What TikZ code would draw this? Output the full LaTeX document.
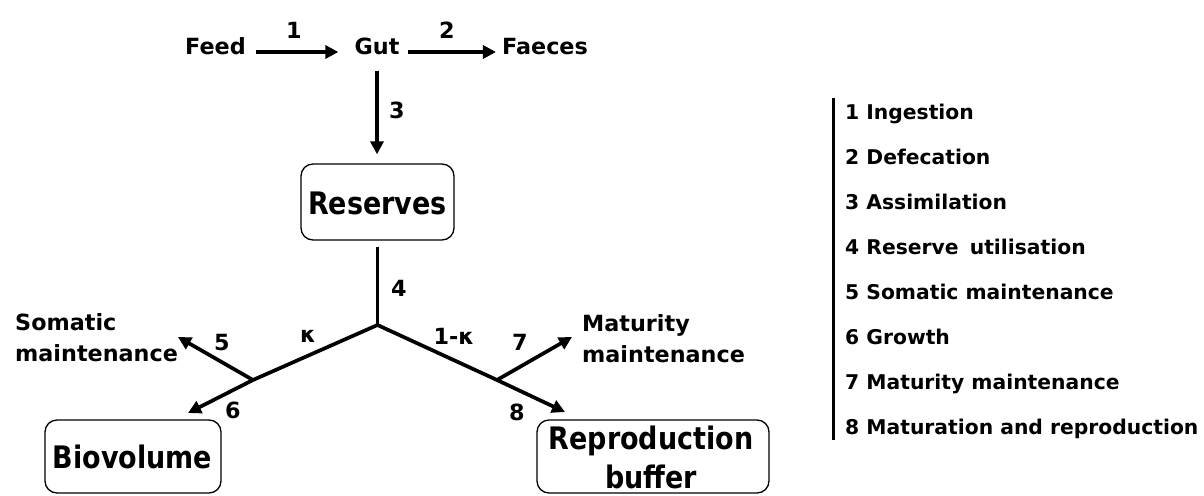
\documentclass[tikz,border=0pt]{standalone}
\usepackage{fontspec}
\setmainfont{DejaVu Sans}
\newfontfamily\boxfont{DejaVu Sans}[FakeStretch=0.87]
\usetikzlibrary{arrows.meta}
\tikzset{
  lbl/.style={font=\bfseries\fontsize{22.3}{31}\selectfont, inner sep=0pt},
  legtxt/.style={font=\bfseries\fontsize{20.3}{24}\selectfont, inner sep=0pt, anchor=base west},
  pool/.style={draw, line width=1.3pt, rounded corners=12pt, inner sep=0pt},
  pooltxt/.style={font=\boxfont\bfseries\fontsize{31}{39}\selectfont, inner sep=0pt, align=center},
  flow/.style={line width=3.7pt, line join=round, -{Triangle[length=13pt,width=13pt]}},
  trunk/.style={line width=3.7pt},
}
\begin{document}
\begin{tikzpicture}[x=1pt,y=-1pt]
\useasboundingbox (0,0) rectangle (1204,495);

% feeding chain
\node[lbl, anchor=base] (feed)   at (215.5,55) {Feed};
\node[lbl, anchor=base] (gut)    at (377,55)   {Gut};
\node[lbl, anchor=base] (faeces) at (545,55)   {Faeces};

% state variables
\node[pool, minimum width=153pt, minimum height=76pt] (res) at (377.5,202) {};
\node[pooltxt, anchor=base] (restxt) at (377.5,214.3) {Reserves};
\node[pool, minimum width=176pt, minimum height=73pt] (bio) at (133,456.5) {};
\node[pooltxt, anchor=base] (biotxt) at (132.5,468) {Biovolume};
\node[pool, minimum width=232pt, minimum height=73pt] (rep) at (653,456.5) {};
\node[pooltxt] (reptxt) at (651,457.5) {Reproduction\\buffer};

% sinks
\node[lbl, align=left, anchor=west] (som) at (15,338) {Somatic\\maintenance};
\node[lbl, align=left, anchor=west] (mat) at (582,339) {Maturity\\maintenance};

% branching points
\coordinate (j)  at (377.5,325);
\coordinate (jl) at (253,380);
\coordinate (jr) at (497,380);
\coordinate (tsom) at (178,337);
\coordinate (tbio) at (188,413);
\coordinate (tmat) at (572,337);
\coordinate (trep) at (565,412);

% fluxes
\draw[flow, shorten <=10pt, shorten >=16pt] ([yshift=3pt]feed.base east) -- ([yshift=3pt]gut.base west);
\draw[flow, shorten <=8pt, shorten >=6pt] ([yshift=3pt]gut.base east) -- ([yshift=3pt]faeces.base west);
\draw[flow, shorten <=15pt, shorten >=9pt] (gut.south) -- (gut.south |- res.north);
\draw[trunk, shorten <=6pt] (res.south) -- (j);
\draw[flow] (j) -- (jl) -- (tbio);
\draw[flow] (jl) -- (tsom);
\draw[flow] (j) -- (jr) -- (trep);
\draw[flow] (jr) -- (tmat);

% flux numbers
\node[lbl] (n1) at (294,30) {1};
\node[lbl] (n2) at (447,30) {2};
\node[lbl] (n3) at (397,110) {3};
\node[lbl] (n4) at (399,288) {4};
\node[lbl] (n5) at (222,343) {5};
\node[lbl] (n6) at (233,410) {6};
\node[lbl] (n7) at (520,342) {7};
\node[lbl] (n8) at (517,412) {8};
\node[lbl] (kap)  at (308,336) {κ};
\node[lbl] (kap1) at (454,336) {1-κ};

% key
\draw[line width=3pt] (833,98) -- (833,440);
\node[legtxt] (k1) at (845,119.5) {1 Ingestion};
\node[legtxt] (k2) at (845,164.5) {2 Defecation};
\node[legtxt] (k3) at (845,209.5) {3 Assimilation};
\node[legtxt] (k4) at (845,254.5) {4 Reserve\hspace{0.55em}utilisation};
\node[legtxt] (k5) at (845,299.5) {5 Somatic maintenance};
\node[legtxt] (k6) at (845,344.5) {6 Growth};
\node[legtxt] (k7) at (845,389.5) {7 Maturity maintenance};
\node[legtxt] (k8) at (845,434.5) {8 Maturation and reproduction};
\end{tikzpicture}
\end{document}
